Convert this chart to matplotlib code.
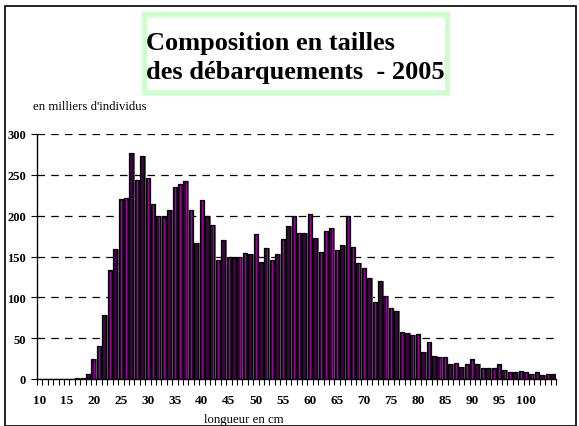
import matplotlib
matplotlib.use("Agg")
import matplotlib.pyplot as plt
from matplotlib.patches import Rectangle
import numpy as np

lengths = list(range(10, 106))
values = [0, 0, 0, 0, 0, 0, 0, 1, 1.5, 6,
          24, 41, 78, 133, 159, 220, 222, 277, 244, 273,
          246, 214, 200, 198, 207, 235, 239, 242, 207, 167,
          219, 199, 189, 146, 170, 149, 148, 150, 154, 153,
          178, 143, 161, 146, 153, 171, 187, 200, 179, 179,
          202, 173, 156, 181, 185, 158, 164, 200, 162, 142,
          136, 124, 94, 120, 102, 87, 83, 57, 56, 54,
          55, 33, 45, 28, 27, 27, 18, 20, 15, 18,
          24, 18, 14, 13, 13, 18, 11, 9, 9, 10,
          9, 6.5, 8, 5, 6, 6.5]
xtick_vals = list(range(10, 101, 5))
ytick_vals = [0, 50, 100, 150, 200, 250, 300]
title_text = "Composition en tailles\ndes débarquements  - 2005"
ylabel_text = "en milliers d'individus"
xlabel_text = "longueur en cm"

W, H = 579, 427
fig = plt.figure(figsize=(W / 100, H / 100), dpi=100)
serif = ["Liberation Serif", "DejaVu Serif"]

# outer frame
fig.add_artist(Rectangle((4.5 / W, 0), (576 - 4.5) / W, 1 - 7 / H,
                         transform=fig.transFigure, fill=False,
                         edgecolor="black", lw=1.2))

ax = fig.add_axes([37 / W, 1 - 380 / H, (556 - 37) / W, (380 - 135) / H])
x = np.array(lengths)
v = np.array(values)
ax.bar(x + 0.12, v, width=0.95, color="#6e6e6e", zorder=2)
ax.bar(x - 0.05, v, width=0.74, color="#3c0642", edgecolor="black", lw=0.9, zorder=3)
ax.bar(x + 0.1, v - 1.5 * (v > 2), width=0.12, color="#a000a0", zorder=4, lw=0)

ax.set_xlim(9.5, 105.5)
ax.set_ylim(0, 300)
for s in ["top", "right"]:
    ax.spines[s].set_visible(False)
ax.spines["left"].set_linewidth(1.0)
ax.spines["bottom"].set_linewidth(1.0)
ax.spines["bottom"].set_zorder(5)
ax.set_yticks(ytick_vals)
ax.set_yticklabels([str(t) for t in ytick_vals], fontfamily=serif,
                   fontweight="bold", fontsize=9)
ax.set_xticks(xtick_vals)
ax.set_xticklabels([str(t) for t in xtick_vals], fontfamily=serif,
                   fontweight="bold", fontsize=9.5)
ax.set_xticks(np.arange(9.5, 106, 1), minor=True)
ax.tick_params(axis="x", which="major", length=0, pad=11)
ax.tick_params(axis="x", which="minor", length=4, width=0.8, direction="out")
ax.tick_params(axis="y", length=4, width=0.8, pad=4)
for yv in ytick_vals[1:]:
    ax.axhline(yv, color="black", lw=0.9, ls=(0, (6, 5)), zorder=1)

fig.text(33 / W, 1 - 107 / H, ylabel_text, fontfamily=serif,
         fontsize=9.2, va="center", ha="left")
fig.text(244 / W, 1 - 420 / H, xlabel_text, fontfamily=serif,
         fontsize=9.2, va="center", ha="center")

# title box
fig.add_artist(Rectangle((143.5 / W, 1 - 93 / H), (447.5 - 143.5) / W, (93 - 14.5) / H,
                         transform=fig.transFigure, fill=True, facecolor="white",
                         edgecolor="#ccffcc", lw=3.5))
fig.text(146 / W, 1 - 58 / H, title_text, fontfamily=serif, fontweight="bold",
         fontsize=19, va="center", ha="left", linespacing=1.28)

fig.savefig("out.png", dpi=100)
